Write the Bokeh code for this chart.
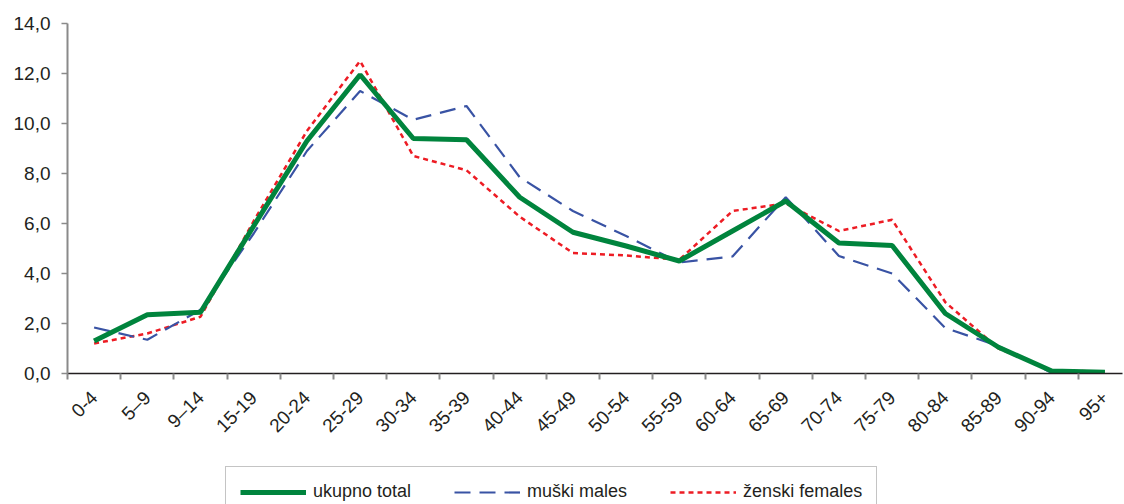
import numpy as np
from bokeh.plotting import figure
from bokeh.layouts import column
from bokeh.models import FixedTicker, Range1d, Legend, LegendItem, ColumnDataSource
from bokeh.embed import file_html
from bokeh.resources import INLINE

categories = ["0-4", "5–9", "9–14", "15-19", "20-24", "25-29", "30-34", "35-39",
              "40-44", "45-49", "50-54", "55-59", "60-64", "65-69", "70-74",
              "75-79", "80-84", "85-89", "90-94", "95+"]
total = [1.3, 2.35, 2.45, 5.9, 9.3, 11.95, 9.4, 9.35, 7.05, 5.65, 5.1, 4.5,
         5.7, 6.9, 5.22, 5.12, 2.4, 1.05, 0.1, 0.05]
males = [1.84, 1.35, 2.55, 5.6, 8.9, 11.3, 10.15, 10.7, 7.85, 6.5, 5.5, 4.44,
         4.68, 7.05, 4.7, 4.0, 1.82, 1.1, 0.02, 0.0]
females = [1.2, 1.6, 2.27, 6.1, 9.7, 12.5, 8.7, 8.13, 6.27, 4.82, 4.72, 4.55,
           6.5, 6.8, 5.7, 6.15, 2.85, 1.0, 0.12, 0.08]
y_ticks = [0, 2, 4, 6, 8, 10, 12, 14]
y_labels = ["0,0", "2,0", "4,0", "6,0", "8,0", "10,0", "12,0", "14,0"]
series_names = ["ukupno total", "muški males", "ženski females"]
series_cols = ["total", "males", "females"]

FONT = "Liberation Sans"
TXT = "#231f20"
GREEN, BLUE, RED = "#00843d", "#3953a4", "#ed1c24"
styles = [dict(line_color=GREEN, line_width=5),
          dict(line_color=BLUE, line_width=2.2, line_dash="16 9"),
          dict(line_color=RED, line_width=2.5, line_dash="5 4")]

x_centers = [i + 0.5 for i in range(len(categories))]
src = ColumnDataSource(dict(x=x_centers, total=total, males=males, females=females))

p = figure(width=1124, height=455, output_backend="svg", toolbar_location=None,
           x_range=Range1d(0, 19.83), y_range=Range1d(0, 14),
           min_border_left=67, min_border_right=2, min_border_top=23,
           min_border_bottom=82)
p.outline_line_color = None
p.xgrid.visible = False
p.ygrid.visible = False
p.background_fill_color = "white"
p.border_fill_color = "white"

# x axis
p.xaxis.ticker = FixedTicker(ticks=x_centers, minor_ticks=list(range(len(categories) + 1)))
p.xaxis.major_label_overrides = {x: c for x, c in zip(x_centers, categories)}
p.xaxis.major_tick_line_color = None
p.xaxis.minor_tick_line_color = "#8a8a8a"
p.xaxis.minor_tick_line_width = 2
p.xaxis.minor_tick_out = 6
p.xaxis.minor_tick_in = 0
p.xaxis.axis_line_color = TXT
p.xaxis.axis_line_width = 1.5
p.xaxis.major_label_orientation = np.pi / 4
p.xaxis.major_label_text_font = FONT
p.xaxis.major_label_text_font_size = "19px"
p.xaxis.major_label_text_color = TXT
p.xaxis.major_label_standoff = 15

# y axis
p.yaxis.ticker = FixedTicker(ticks=y_ticks)
p.yaxis.major_label_overrides = {t: l for t, l in zip(y_ticks, y_labels)}
p.yaxis.minor_tick_line_color = None
p.yaxis.major_tick_line_color = "#8a8a8a"
p.yaxis.major_tick_line_width = 1.5
p.yaxis.major_tick_out = 6
p.yaxis.major_tick_in = 0
p.yaxis.axis_line_color = "#8a8a8a"
p.yaxis.axis_line_width = 2
p.yaxis.major_label_text_font = FONT
p.yaxis.major_label_text_font_size = "19px"
p.yaxis.major_label_text_color = TXT
p.yaxis.major_label_standoff = 11

p.line("x", "females", source=src, **styles[2])
p.line("x", "males", source=src, **styles[1])
p.line("x", "total", source=src, **styles[0])

# legend strip below the chart (its series lie outside its visible range;
# only the legend keys show)
lg = figure(width=1124, height=49, output_backend="svg", toolbar_location=None,
            x_range=Range1d(-200, -199), y_range=Range1d(-200, -199),
            x_axis_location=None, y_axis_location=None,
            min_border_left=0, min_border_right=0, min_border_top=0,
            min_border_bottom=0)
lg.outline_line_color = None
lg.xgrid.visible = False
lg.ygrid.visible = False
lg.border_fill_color = "white"
lg.background_fill_color = "white"
key_renderers = [lg.line("x", col, source=src, **st)
                 for col, st in zip(series_cols, styles)]

legend = Legend(items=[LegendItem(label=n, renderers=[r])
                       for n, r in zip(series_names, key_renderers)],
                orientation="horizontal", location=(158, -13),
                glyph_width=66, glyph_height=20, label_height=20,
                label_standoff=7, spacing=43, padding=14, margin=0,
                label_text_font=FONT, label_text_font_size="18px",
                label_text_color=TXT, border_line_color="#8a8a8a",
                border_line_width=1.2, background_fill_color="white",
                background_fill_alpha=1.0)
lg.add_layout(legend, "center")

layout = column(p, lg, spacing=0)
open("out.html", "w").write(file_html(layout, INLINE))
